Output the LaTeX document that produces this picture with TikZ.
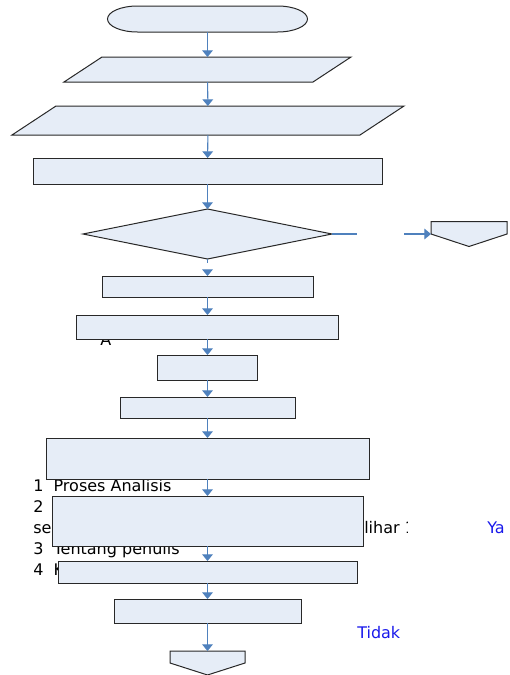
\documentclass[tikz,border=0pt]{standalone}
\usepackage{fontspec}
\setmainfont{DejaVu Sans}
\usepackage{tikz}
\usetikzlibrary{shapes.geometric, arrows.meta, calc}

\newlength{\pxu}
\setlength{\pxu}{0.75pt}
\definecolor{isian}{RGB}{230,237,247}
\definecolor{garisbiru}{RGB}{79,129,189}
\definecolor{teksbiru}{RGB}{25,25,235}
\definecolor{tepi}{RGB}{40,40,40}

\begin{document}
\begin{tikzpicture}[x=0.75pt, y=-0.75pt,
	bentuk/.style={draw=tepi, fill=isian, line width=0.75pt},
	kotak/.style={bentuk, rectangle, inner sep=0pt, outer sep=0pt},
	keputusan/.style={bentuk, diamond, inner sep=0pt, outer sep=0pt},
	tempat/.style={rectangle, inner sep=0pt, outer sep=0pt},
	garis/.style={draw=garisbiru, line width=0.8pt},
	panah/.style={garis, -{Triangle[width=8pt, length=5pt]}},
	tulisan/.style={anchor=base west, inner sep=0pt, font=\fontsize{12}{14}\selectfont}]
	
	\useasboundingbox (0,0) rectangle (510,675);
	
	% teks yang tertimpa kotak
	\node[tulisan] (tA) at (100,345) {A};
	\node[tulisan] (t1) at (33,491) {1\ \ Proses Analisis};
	\node[tulisan] (t2) at (33,512) {2};
	\node[tulisan] (tse) at (33,533) {se};
	\begin{scope}
		\clip (300,515) rectangle (407,540);
		\node[tulisan] (tlihar) at (364,533) {lihar 1};
	\end{scope}
	\node[tulisan, text=teksbiru] (tya) at (487,533) {Ya};
	\node[tulisan] (t3) at (33,554) {3\ \ Tentang penulis};
	\node[tulisan] (t4) at (33,575) {4\ \ K};
	\node[tulisan, text=teksbiru] (ttidak) at (357,638) {Tidak};
	
	% bentuk bagan alir
	\node[tempat, minimum width=200\pxu, minimum height=26\pxu] (mulai) at (207.5,19) {};
	\draw[bentuk] ([xshift=30\pxu]mulai.north west) -- ([xshift=-30\pxu]mulai.north east)
		arc[start angle=90, end angle=-90, x radius=30\pxu, y radius=13\pxu]
		-- ([xshift=30\pxu]mulai.south west)
		arc[start angle=270, end angle=90, x radius=30\pxu, y radius=13\pxu] -- cycle;
	
	\node[tempat, minimum width=287\pxu, minimum height=25\pxu] (in1) at (207.5,69.5) {};
	\draw[bentuk] ([xshift=38\pxu]in1.north west) -- (in1.north east) -- ([xshift=-38\pxu]in1.south east) -- (in1.south west) -- cycle;
	\node[tempat, minimum width=392\pxu, minimum height=29\pxu] (in2) at (208,120.5) {};
	\draw[bentuk] ([xshift=44\pxu]in2.north west) -- (in2.north east) -- ([xshift=-44\pxu]in2.south east) -- (in2.south west) -- cycle;
	
	\foreach \nama/\y/\w/\h in {p1/171/349/26, p2/286.5/211/21, p3/327/262/24, p4/367.5/100/25, p5/407.5/175/21, p6/458.5/323/41, p7/521/311/50, p8/572/299/22, p9/611/187/24}
		\node[kotak, minimum width=\w\pxu, minimum height=\h\pxu] (\nama) at (207.5,\y) {};
	
	\node[keputusan, minimum width=249\pxu, minimum height=50\pxu] (cek) at (207.5,234) {};
	
	\node[tempat, minimum width=76\pxu, minimum height=25\pxu] (ke1) at (469,234) {};
	\draw[bentuk] (ke1.north west) -- (ke1.north east) -- (ke1.east) -- (ke1.south) -- (ke1.west) -- cycle;
	\node[tempat, minimum width=75\pxu, minimum height=24\pxu] (ke2) at (207.5,663) {};
	\draw[bentuk] (ke2.north west) -- (ke2.north east) -- (ke2.east) -- (ke2.south) -- (ke2.west) -- cycle;
	
	% panah
	\foreach \a/\b in {mulai/in1, in1/in2, in2/p1, p1/cek, p2/p3, p3/p4, p4/p5, p5/p6, p6/p7, p7/p8, p8/p9, p9/ke2}
		\draw[panah] (\a) -- (\b);
	
	\coordinate (c1) at (207.5,263);
	\coordinate (c2) at (207.5,270);
	\draw[garis] (cek.south) -- (c1);
	\draw[panah] (c2) -- (p2);
	\coordinate (c3) at (357,234);
	\coordinate (c4) at (404,234);
	\draw[garis] (cek.east) -- (c3);
	\draw[panah] (c4) -- (ke1.west);
\end{tikzpicture}
\end{document}
